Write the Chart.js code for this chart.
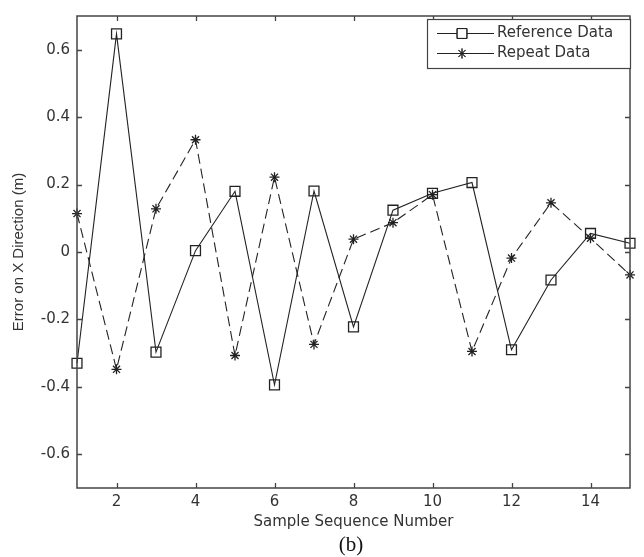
<!DOCTYPE html>
<html>
<head>
<meta charset="utf-8">
<script src="https://cdn.jsdelivr.net/npm/chart.js@4/dist/chart.umd.min.js"></script>
<style>
  html, body { margin: 0; padding: 0; background: #fff; }
  #wrap { width: 644px; height: 557px; }
</style>
</head>
<body>
<div id="wrap"><canvas id="c" width="644" height="557"></canvas></div>
<script>
// ---- data ----
const sampleNumbers = [1, 2, 3, 4, 5, 6, 7, 8, 9, 10, 11, 12, 13, 14, 15];
const referenceData = [-0.33, 0.647, -0.297, 0.004, 0.18, -0.394, 0.181, -0.222, 0.124, 0.174, 0.206, -0.29, -0.083, 0.055, 0.026];
const repeatData    = [0.114, -0.348, 0.128, 0.333, -0.307, 0.222, -0.274, 0.038, 0.087, 0.17, -0.295, -0.018, 0.146, 0.041, -0.068];
const xTickValues = [2, 4, 6, 8, 10, 12, 14];
const yTickValues = [-0.6, -0.4, -0.2, 0, 0.2, 0.4, 0.6];
const seriesNames = ['Reference Data', 'Repeat Data'];
const xTitle = 'Sample Sequence Number';
const yTitle = 'Error on X Direction (m)';
const captionText = '(b)';

const INK = '#222';
const AXIS = '#444';
const TXT = '#333';
const FONT = 'DejaVu Sans';

const toPoints = (ys) => sampleNumbers.map((x, i) => ({ x: x, y: ys[i] }));

// inner tick marks + full box (MATLAB style)
const boxTicks = {
  id: 'boxTicks',
  afterDatasetsDraw(chart) {
    const { ctx, chartArea: a, scales: { x, y } } = chart;
    ctx.save();
    ctx.strokeStyle = AXIS;
    ctx.lineWidth = 1.3;
    ctx.beginPath();
    const L = 5;
    xTickValues.forEach(v => {
      const px = Math.round(x.getPixelForValue(v)) + 0.5;
      ctx.moveTo(px, a.bottom); ctx.lineTo(px, a.bottom - L);
      ctx.moveTo(px, a.top); ctx.lineTo(px, a.top + L);
    });
    yTickValues.forEach(v => {
      const py = Math.round(y.getPixelForValue(v)) + 0.5;
      ctx.moveTo(a.left, py); ctx.lineTo(a.left + L, py);
      ctx.moveTo(a.right, py); ctx.lineTo(a.right - L, py);
    });
    ctx.stroke();
    ctx.lineWidth = 1.5;
    ctx.strokeRect(a.left, a.top, a.right - a.left, a.bottom - a.top);
    ctx.restore();
  },
  afterDraw(chart) {
    const { ctx, chartArea: a } = chart;
    ctx.save();
    // legend box
    const lx = 427, ly = 19, lw = a.right - 427, lh = 49;
    ctx.fillStyle = '#fff';
    ctx.fillRect(lx, ly, lw, lh);
    ctx.strokeStyle = AXIS;
    ctx.lineWidth = 1.2;
    ctx.strokeRect(lx + 0.5, ly + 0.5, lw, lh);
    const rows = [33.5, 53.5];
    chart.data.datasets.forEach((ds, i) => {
      const yy = rows[i];
      ctx.strokeStyle = INK;
      ctx.lineWidth = 1;
      ctx.setLineDash([]);
      ctx.beginPath();
      ctx.moveTo(437, yy); ctx.lineTo(494, yy);
      ctx.stroke();
      Chart.helpers.drawPoint(ctx, {
        pointStyle: ds.pointStyle, radius: ds.pointRadius, borderWidth: ds.pointBorderWidth, rotation: 0
      }, 462, yy);
      ctx.strokeStyle = INK;
      ctx.stroke();
      ctx.fillStyle = TXT;
      ctx.font = '15px "' + FONT + '"';
      ctx.textBaseline = 'middle';
      ctx.textAlign = 'left';
      ctx.fillText(ds.label, 497, yy);
    });
    // caption
    ctx.fillStyle = '#111';
    ctx.font = '21px "Liberation Serif"';
    ctx.textAlign = 'center';
    ctx.textBaseline = 'middle';
    ctx.fillText(captionText, 351, 545);
    ctx.restore();
  }
};

new Chart(document.getElementById('c'), {
  type: 'scatter',
  data: {
    datasets: [
      {
        label: seriesNames[0],
        data: toPoints(referenceData),
        showLine: true,
        borderColor: INK,
        borderWidth: 1.1,
        pointStyle: 'rect',
        pointRadius: 7,
        pointBorderWidth: 1.3,
        pointBorderColor: INK,
        pointBackgroundColor: 'rgba(0,0,0,0)',
        clip: false
      },
      {
        label: seriesNames[1],
        data: toPoints(repeatData),
        showLine: true,
        borderColor: INK,
        borderWidth: 1.1,
        borderDash: [10, 5],
        pointStyle: 'star',
        pointRadius: 5,
        pointBorderWidth: 1.3,
        pointBorderColor: INK,
        pointBackgroundColor: 'rgba(0,0,0,0)',
        clip: false
      }
    ]
  },
  plugins: [boxTicks],
  options: {
    responsive: false,
    animation: false,
    layout: { padding: { left: 0, right: 14, top: 10, bottom: 0 } },
    plugins: { legend: { display: false }, tooltip: { enabled: false } },
    scales: {
      x: {
        type: 'linear',
        min: 1, max: 15,
        afterBuildTicks: (s) => { s.ticks = xTickValues.map(v => ({ value: v })); },
        afterFit: (s) => { s.height = 69; },
        grid: { display: false, drawTicks: false },
        border: { display: false },
        ticks: { color: TXT, font: { family: FONT, size: 15 }, padding: 5, maxRotation: 0, autoSkip: false },
        title: { display: true, text: xTitle, color: TXT, font: { family: FONT, size: 15 }, padding: { top: 0, bottom: 26 } }
      },
      y: {
        type: 'linear',
        min: -0.7, max: 0.7,
        afterBuildTicks: (s) => { s.ticks = yTickValues.map(v => ({ value: v })); },
        afterFit: (s) => { s.width = 77; },
        grid: { display: false, drawTicks: false },
        border: { display: false },
        ticks: {
          color: TXT, font: { family: FONT, size: 15 }, padding: 7, autoSkip: false,
          callback: (v) => (Math.abs(v) < 1e-9 ? '0' : Number(v).toFixed(1))
        },
        title: { display: true, text: yTitle, color: TXT, font: { family: 'Liberation Sans', size: 15 }, padding: { top: 10, bottom: 0 } }
      }
    }
  }
});
</script>
</body>
</html>
